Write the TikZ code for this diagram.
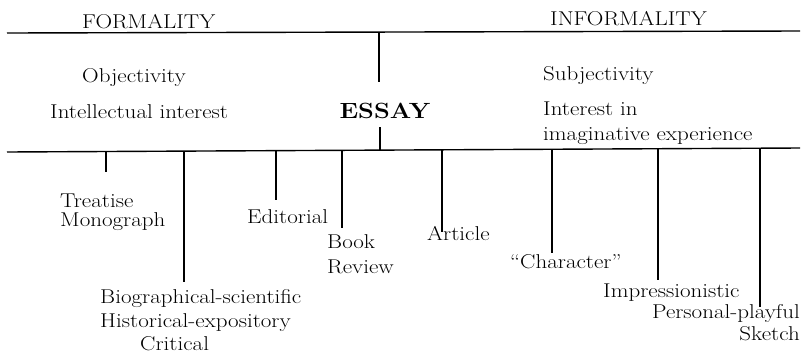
\documentclass[tikz,border=0pt]{standalone}
\begin{document}
\begin{tikzpicture}[x=1pt,y=-1pt,
  rule/.style={line width=1.4pt},
  lbl/.style={inner sep=0pt,font=\fontsize{20}{24}\selectfont,xscale=1.15,transform shape},
  lw/.style={lbl,anchor=base west},
  le/.style={lbl,anchor=base east}]
\useasboundingbox (0,0) rectangle (807,354);
% horizontal rules
\coordinate (t1) at (7,33);
\coordinate (t2) at (800,31);
\coordinate (b1) at (7,152);
\coordinate (b2) at (800,148);
\draw[rule] (t1) -- (t2);
\draw[rule] (b1) -- (b2);
% headings
\node[lw] (formal) at (82,28) {FORMALITY};
\node[lw] (informal) at (550,25) {INFORMALITY};
\node[lw] (obj) at (82,82) {Objectivity};
\node[lw] (intel) at (50,118) {Intellectual interest};
\node[lbl,anchor=base,font=\fontsize{22}{26}\selectfont\bfseries] (essay) at (385,118) {ESSAY};
\node[lw] (subj) at (543,80) {Subjectivity};
\node[lw] (inter) at (543,115) {Interest in};
\node[lw] (imag) at (543,140) {imaginative experience};
% essay stems
\coordinate (eu1) at (379,32);
\coordinate (eu2) at (379,82);
\coordinate (el1) at (380,127);
\coordinate (el2) at (380,151);
\draw[rule] (eu1) -- (eu2);
\draw[rule] (el1) -- (el2);
% branch labels
\node[lw] (treat) at (60,207) {Treatise};
\node[lw] (mono) at (60,226) {Monograph};
\node[lw] (edit) at (247,223) {Editorial};
\node[lw] (book) at (327,248) {Book};
\node[lw] (rev) at (327,273) {Review};
\node[lw] (bio) at (100,303) {Biographical-scientific};
\node[lw] (hist) at (100,327) {Historical-expository};
\node[lw] (crit) at (140,350) {Critical};
\node[lw] (art) at (427,240) {Article};
\node[lw] (char) at (510,268) {``Character''};
\node[lw] (impr) at (603,297) {Impressionistic};
\node[le] (pers) at (800,318) {Personal-playful};
\node[le] (sket) at (800,340) {Sketch};
% branch ticks
\foreach \n/\x/\ya/\yb in {tr/106/152/172, bi/184/151/282, ed/276/150/200, bk/342/150/228,
  ar/442/150/232, ch/552/149/253, im/658/149/280, pe/760/148/307}{
  \coordinate (\n a) at (\x,\ya);
  \coordinate (\n b) at (\x,\yb);
  \draw[rule] (\n a) -- (\n b);
}
\end{tikzpicture}
\end{document}
